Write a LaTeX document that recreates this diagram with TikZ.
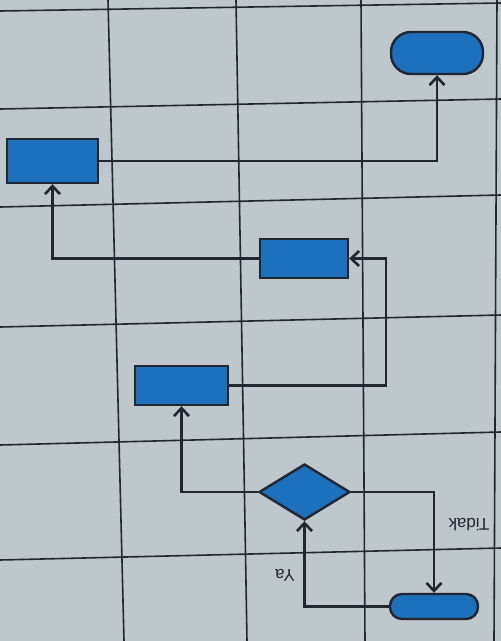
\documentclass[tikz,border=0pt]{standalone}
\usepackage{fontspec}
\setmainfont{Liberation Sans}
\usetikzlibrary{arrows.meta,shapes.geometric}
\definecolor{paper}{RGB}{190,199,204}
\definecolor{boxblue}{RGB}{28,112,188}
\definecolor{ink}{RGB}{33,38,48}
\tikzset{
  gridline/.style={ink, line width=1.6pt},
  procbox/.style={draw=ink, fill=boxblue, line width=2.4pt, rectangle, inner sep=0pt},
  termbox/.style={draw=ink, fill=boxblue, line width=2.4pt, rectangle, inner sep=0pt},
  decbox/.style={draw=ink, fill=boxblue, line width=2.4pt, diamond, inner sep=0pt, minimum width=91pt, minimum height=56pt, aspect=1.6},
  conn/.style={ink, line width=2.4pt, -{Straight Barb[length=8pt,width=15pt,line width=2.6pt]}},
  lab/.style={font=\fontsize{17}{17}\selectfont, text=ink, rotate=180}
}
\begin{document}
\begin{tikzpicture}[x=1pt,y=-1pt]
\fill[paper] (0,0) rectangle (501,641);
\useasboundingbox (0,0) rectangle (501,641);
% grid
\draw[gridline] (0,11) -- (501,3);
\draw[gridline] (0,109) -- (501,99);
\draw[gridline] (0,207) -- (501,195);
\draw[gridline] (0,327) -- (501,315);
\draw[gridline] (0,445) -- (501,432);
\draw[gridline] (0,560) -- (501,548);
\draw[gridline] (108,0) -- (124,641);
\draw[gridline] (236,0) -- (247,641);
\draw[gridline] (361,0) -- (365,641);
\draw[gridline] (497,0) -- (494,641);
% nodes
\node[termbox, minimum width=92pt, minimum height=42pt, rounded corners=20pt] (T1) at (437,53) {};
\node[procbox, minimum width=91pt, minimum height=44pt] (R1) at (52.5,161) {};
\node[procbox, minimum width=88pt, minimum height=39pt] (R2) at (304,258.5) {};
\node[procbox, minimum width=93pt, minimum height=39pt] (R3) at (181.5,385.5) {};
\node[decbox] (D) at (304.5,492) {};
\node[termbox, minimum width=88pt, minimum height=25pt, rounded corners=12pt] (T2) at (434,606.5) {};
\coordinate (K) at (386,385.5);
% connectors
\draw[conn] (T2.west) -| (D.south);
\draw[conn] (D.east) -| (T2.north);
\draw[conn] (D.west) -| (R3.south);
\draw[conn] (R3.east) -- (K) |- (R2.east);
\draw[conn] (R2.west) -| (R1.south);
\draw[conn] (R1.east) -| (T1.south);
% labels
\node[lab] (ya) at (285,575) {Ya};
\node[lab] (tidak) at (469,525) {Tidak};
\end{tikzpicture}
\end{document}
